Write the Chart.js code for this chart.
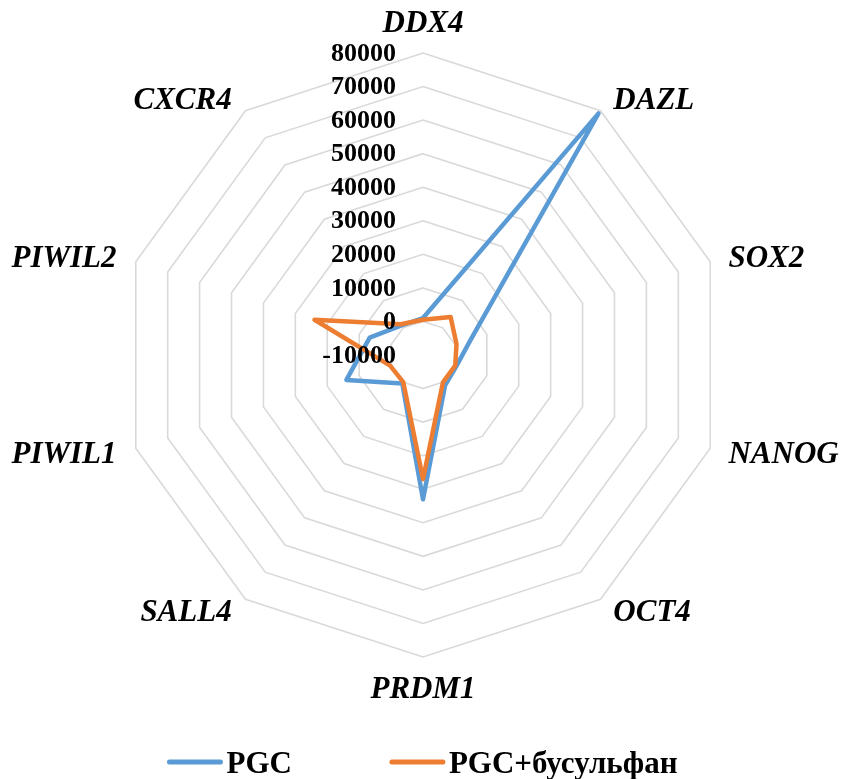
<!DOCTYPE html>
<html>
<head>
<meta charset="utf-8">
<script src="https://cdn.jsdelivr.net/npm/chart.js@4/dist/chart.umd.min.js"></script>
<style>
  html, body { margin: 0; padding: 0; background: #ffffff; }
  #wrap { width: 845px; height: 779px; position: relative; }
</style>
</head>
<body>
<div id="wrap"><canvas id="radar"></canvas></div>
<script>
// Gene names around the radar, clockwise from the top
const genes = ['DDX4', 'DAZL', 'SOX2', 'NANOG', 'OCT4', 'PRDM1', 'SALL4', 'PIWIL1', 'PIWIL2', 'CXCR4'];

// Expression levels per gene
const pgc         = [1000, 79000, 5000, 500, 1200, 33000, 500, 14000, 6700, 900];
const pgcBusulfan = [500, 4000, 500, 100, 100, 27000, 0, 300, 24000, 1300];

const seriesNames = ['PGC', 'PGC+бусульфан'];
const seriesColors = ['#5B9BD5', '#ED7D31'];

// Radial axis range and tick spacing
const axisMin = -10000;
const axisMax = 80000;
const axisStep = 10000;

const SERIF = '"Liberation Serif", "Times New Roman", serif';

// Tick values, gene names and the legend are painted on top of the series
const radarText = {
  id: 'radarText',
  afterDatasetsDraw(chart) {
    const s = chart.scales.r;
    const ctx = chart.ctx;
    ctx.save();
    ctx.fillStyle = '#000000';

    // value labels, right-aligned just left of the vertical axis
    ctx.font = 'bold 26px ' + SERIF;
    ctx.textAlign = 'right';
    ctx.textBaseline = 'middle';
    s.ticks.forEach(t => {
      const d = s.getDistanceFromCenterForValue(t.value);
      ctx.fillText(String(t.value), s.xCenter - 27, s.yCenter - d + 1);
    });

    // gene names outside the outer ring
    ctx.font = 'italic bold 31px ' + SERIF;
    const n = chart.data.labels.length;
    chart.data.labels.forEach((lab, i) => {
      const deg = i * 360 / n;
      let align, pad;
      if (deg === 0 || deg === 180) { align = 'center'; pad = 31; }
      else { align = deg < 180 ? 'left' : 'right'; pad = 15; }
      const p = s.getPointPosition(i, s.drawingArea + pad);
      const nudge = align === 'left' ? 4 : (align === 'right' ? -5 : 0);
      ctx.textAlign = align;
      ctx.fillText(lab, p.x + nudge, p.y + 2);
    });

    // legend along the bottom
    ctx.font = 'bold 31px ' + SERIF;
    ctx.textAlign = 'left';
    const sample = 55, gapText = 4, gapItem = 98;
    const items = chart.data.datasets.map(ds => ({
      label: ds.label, color: ds.borderColor, w: ctx.measureText(ds.label).width
    }));
    let total = 0;
    items.forEach((it, k) => { total += sample + gapText + it.w + (k ? gapItem : 0); });
    let x = chart.width / 2 - total / 2;
    const ly = 765;
    ctx.lineWidth = 5;
    ctx.lineCap = 'round';
    items.forEach(it => {
      ctx.strokeStyle = it.color;
      ctx.beginPath();
      ctx.moveTo(x + 2, ly - 3);
      ctx.lineTo(x + sample - 2, ly - 3);
      ctx.stroke();
      ctx.fillText(it.label, x + sample + gapText, ly);
      x += sample + gapText + it.w + gapItem;
    });
    ctx.restore();
  }
};

new Chart(document.getElementById('radar'), {
  type: 'radar',
  data: {
    labels: genes,
    datasets: [
      {
        label: seriesNames[0],
        data: pgc,
        borderColor: seriesColors[0],
        backgroundColor: seriesColors[0],
        order: 1
      },
      {
        label: seriesNames[1],
        data: pgcBusulfan,
        borderColor: seriesColors[1],
        backgroundColor: seriesColors[1],
        order: 0
      }
    ]
  },
  options: {
    responsive: true,
    maintainAspectRatio: false,
    animation: false,
    layout: { padding: { left: 121, right: 120, top: 53, bottom: 122 } },
    elements: {
      line: { borderWidth: 4.5, fill: false, tension: 0, borderJoinStyle: 'round', borderCapStyle: 'round' },
      point: { radius: 0, hitRadius: 0, hoverRadius: 0 }
    },
    plugins: {
      legend: { display: false },
      tooltip: { enabled: false }
    },
    scales: {
      r: {
        min: axisMin,
        max: axisMax,
        beginAtZero: false,
        ticks: { stepSize: axisStep, display: false },
        grid: { color: '#d9d9d9', lineWidth: 1.6 },
        angleLines: { display: false },
        pointLabels: { display: false }
      }
    }
  },
  plugins: [radarText]
});
</script>
</body>
</html>
